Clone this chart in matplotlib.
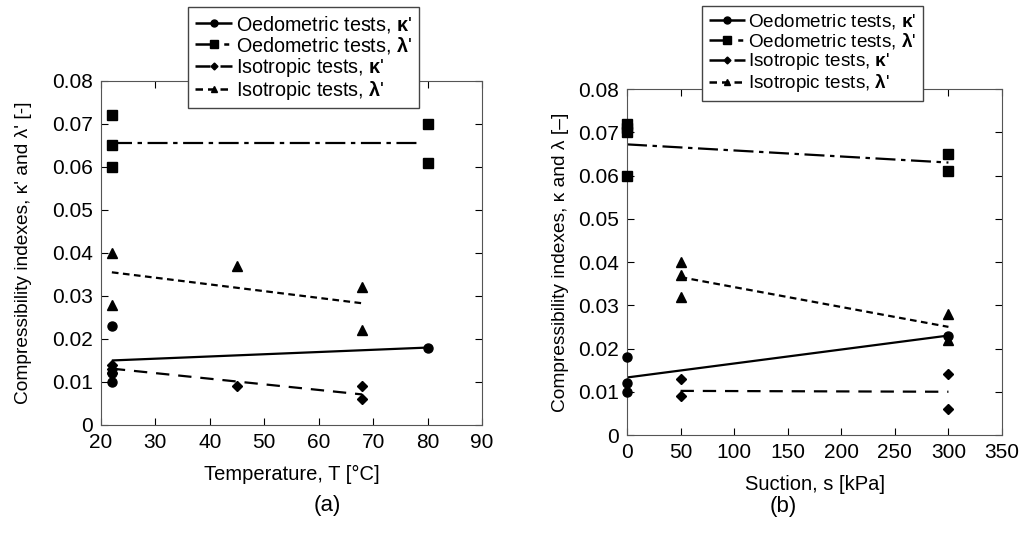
import matplotlib
matplotlib.use("Agg")
import matplotlib.pyplot as plt
from matplotlib.lines import Line2D

plt.rcParams["font.family"] = ["Liberation Sans", "DejaVu Sans"]
plt.rcParams["font.size"] = 14
plt.rcParams["mathtext.fontset"] = "custom"
plt.rcParams["mathtext.rm"] = "Liberation Sans"
plt.rcParams["mathtext.bf"] = "Liberation Sans:bold"
plt.rcParams["mathtext.it"] = "Liberation Sans:italic"

# ---- (a) temperature ----
a_oed_k_x = [22, 22, 22, 80]
a_oed_k_y = [0.023, 0.012, 0.010, 0.018]
a_oed_l_x = [22, 22, 22, 80, 80]
a_oed_l_y = [0.072, 0.065, 0.060, 0.070, 0.061]
a_iso_k_x = [22, 22, 22, 45, 68, 68]
a_iso_k_y = [0.014, 0.013, 0.012, 0.009, 0.009, 0.006]
a_iso_l_x = [22, 22, 45, 68, 68]
a_iso_l_y = [0.040, 0.028, 0.037, 0.032, 0.022]
# fitted trend lines (end points)
a_fit_oed_k = ([22, 80], [0.0150, 0.0180])
a_fit_oed_l = ([22, 79], [0.0655, 0.0655])
a_fit_iso_k = ([22, 68], [0.0131, 0.0071])
a_fit_iso_l = ([22, 68], [0.0355, 0.0283])

# ---- (b) suction ----
b_oed_k_x = [0, 0, 0, 300]
b_oed_k_y = [0.018, 0.012, 0.010, 0.023]
b_oed_l_x = [0, 0, 0, 0, 300, 300]
b_oed_l_y = [0.072, 0.071, 0.070, 0.060, 0.065, 0.061]
b_iso_k_x = [50, 50, 300, 300]
b_iso_k_y = [0.013, 0.009, 0.014, 0.006]
b_iso_l_x = [50, 50, 50, 300, 300]
b_iso_l_y = [0.040, 0.037, 0.032, 0.028, 0.022]
b_fit_oed_k = ([0, 300], [0.0133, 0.0230])
b_fit_oed_l = ([0, 300], [0.0672, 0.0630])
b_fit_iso_k = ([50, 300], [0.0102, 0.0100])
b_fit_iso_l = ([50, 300], [0.0365, 0.0250])

STY = {
    "oed_k": ("o", 6.5, (0, ())),
    "oed_l": ("s", 7.5, (0, (9, 2.5, 2, 2.5))),
    "iso_k": ("D", 5, (0, (6, 4))),
    "iso_l": ("^", 6.5, (0, (3, 2))),
}
LABELS = {
    "oed_k": "Oedometric tests, $\\mathbf{κ}$'",
    "oed_l": "Oedometric tests, $\\mathbf{λ}$'",
    "iso_k": "Isotropic tests, $\\mathbf{κ}$'",
    "iso_l": "Isotropic tests, $\\mathbf{λ}$'",
}
ORDER = ["oed_k", "oed_l", "iso_k", "iso_l"]


def panel(ax, pts, fits, xlim, xticks, xlabel, ylabel, ypad):
    for key in ORDER:
        mk, ms, ls = STY[key]
        xs, ys = pts[key]
        ax.plot(xs, ys, linestyle="none", marker=mk, markersize=ms,
                color="black", clip_on=False, zorder=3)
        fx, fy = fits[key]
        ax.plot(fx, fy, linestyle=ls, color="black", linewidth=1.6)
    ax.set_xlim(*xlim)
    ax.set_ylim(0, 0.08)
    ax.set_xticks(xticks)
    ax.set_yticks([0, 0.01, 0.02, 0.03, 0.04, 0.05, 0.06, 0.07, 0.08])
    ax.set_yticklabels(["0", "0.01", "0.02", "0.03", "0.04", "0.05",
                        "0.06", "0.07", "0.08"])
    ax.tick_params(direction="in", top=True, right=True, length=5,
                   labelsize=15, pad=6)
    for s in ax.spines.values():
        s.set_color("#555555")
    ax.set_xlabel(xlabel, fontsize=14.5, labelpad=9)
    ax.set_ylabel(ylabel, fontsize=13.8, labelpad=ypad)


def legend_handles():
    hs = []
    for key in ORDER:
        mk, ms, ls = STY[key]
        hs.append(Line2D([], [], color="black", marker=mk, markersize=ms - 1.5,
                         linestyle=ls, linewidth=1.8, label=LABELS[key]))
    return hs


fig = plt.figure(figsize=(10.21, 5.54), dpi=100)
ax1 = fig.add_axes([0.0989, 0.2329, 0.3732, 0.621])
ax2 = fig.add_axes([0.6141, 0.2148, 0.3673, 0.6245])

panel(ax1,
      {"oed_k": (a_oed_k_x, a_oed_k_y), "oed_l": (a_oed_l_x, a_oed_l_y),
       "iso_k": (a_iso_k_x, a_iso_k_y), "iso_l": (a_iso_l_x, a_iso_l_y)},
      {"oed_k": a_fit_oed_k, "oed_l": a_fit_oed_l,
       "iso_k": a_fit_iso_k, "iso_l": a_fit_iso_l},
      (20, 90), [20, 30, 40, 50, 60, 70, 80, 90],
      "Temperature, T [°C]", "Compressibility indexes, κ' and λ' [-]", 14)
panel(ax2,
      {"oed_k": (b_oed_k_x, b_oed_k_y), "oed_l": (b_oed_l_x, b_oed_l_y),
       "iso_k": (b_iso_k_x, b_iso_k_y), "iso_l": (b_iso_l_x, b_iso_l_y)},
      {"oed_k": b_fit_oed_k, "oed_l": b_fit_oed_l,
       "iso_k": b_fit_iso_k, "iso_l": b_fit_iso_l},
      (0, 350), [0, 50, 100, 150, 200, 250, 300, 350],
      "Suction, s [kPa]", "Compressibility indexes, κ and λ [–]", 6)

for ax, anchor, fs in ((ax1, (0.184, 0.988), 14.2),
                       (ax2, (0.6876, 0.990), 13.6)):
    leg = ax.legend(handles=legend_handles(), loc="upper left",
                    bbox_to_anchor=anchor, bbox_transform=fig.transFigure,
                    borderaxespad=0, fancybox=False, framealpha=1,
                    edgecolor="#444444", fontsize=fs, handlelength=1.9,
                    handletextpad=0.2, labelspacing=0.0, borderpad=0.35)
    leg.get_frame().set_linewidth(1.0)
    leg.set_zorder(5)

fig.text(0.321, 0.088, "(a)", ha="center", va="center", fontsize=16)
fig.text(0.767, 0.085, "(b)", ha="center", va="center", fontsize=16)

fig.savefig("out.png", dpi=100)
